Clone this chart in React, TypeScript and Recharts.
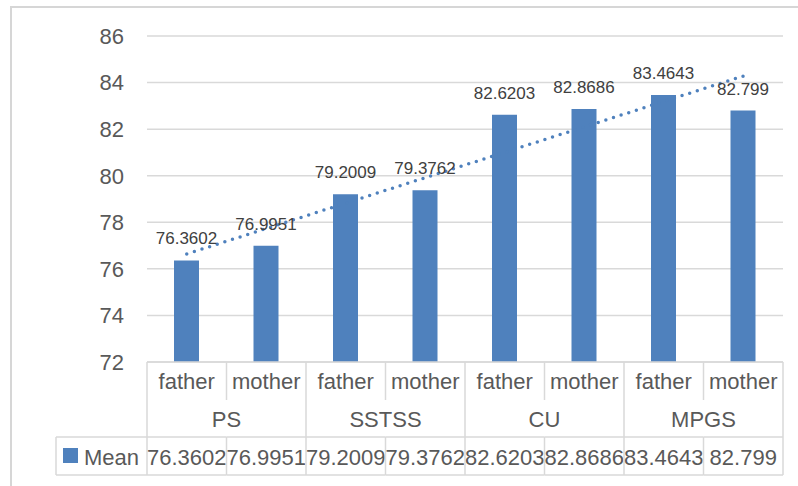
import React from "react";
import {
  ComposedChart,
  Bar,
  Line,
  XAxis,
  YAxis,
  CartesianGrid,
  LabelList,
} from "recharts";

// ---- data ----
const groupNames = ["PS", "SSTSS", "CU", "MPGS"];
const roles = ["father", "mother"];
const meanValues = [76.3602, 76.9951, 79.2009, 79.3762, 82.6203, 82.8686, 83.4643, 82.799];
const trendValues = [76.64, null, null, null, null, null, null, 84.28];
const yTicks = [72, 74, 76, 78, 80, 82, 84, 86];
const seriesName = "Mean";

const data = meanValues.map((v, i) => ({
  key: `${groupNames[Math.floor(i / roles.length)]}|${roles[i % roles.length]}`,
  group: groupNames[Math.floor(i / roles.length)],
  role: roles[i % roles.length],
  mean: v,
  trend: trendValues[i],
}));

// ---- layout ----
const W = 798;
const H = 486;
const MARGIN = { top: 36, right: 15, bottom: 0, left: 0 };
const Y_AXIS_W = 147;
const X_AXIS_H = 124;
const BAND = (W - MARGIN.left - MARGIN.right - Y_AXIS_W) / data.length;
const BAR_COLOR = "#4f81bd";
const GRID = "#d9d9d9";
const TXT = "#595959";
const FONT = "'Liberation Sans', Arial, sans-serif";

const CategoryTick = (props: any) => {
  const { x, y, payload } = props;
  const i = payload.index as number;
  const d = data[i];
  if (!d) return null;
  const left = x - BAND / 2;
  const right = x + BAND / 2;
  const isFirstInGroup = i % roles.length === 0;
  const isLast = i === data.length - 1;
  const rowTop = y + 75;
  const rowBot = y + 113;
  return (
    <g>
      <text x={x} y={y + 19} textAnchor="middle" dominantBaseline="central" fontSize={22} fill={TXT} fontFamily={FONT}>
        {d.role}
      </text>
      {isFirstInGroup ? (
        <>
          <line x1={left} y1={y} x2={left} y2={rowBot} stroke={GRID} strokeWidth={1.5} />
          <text x={right} y={y + 57} textAnchor="middle" dominantBaseline="central" fontSize={22} fill={TXT} fontFamily={FONT}>
            {d.group}
          </text>
        </>
      ) : (
        <>
          <line x1={left} y1={y} x2={left} y2={y + 38} stroke={GRID} strokeWidth={1.5} />
          <line x1={left} y1={rowTop} x2={left} y2={rowBot} stroke={GRID} strokeWidth={1.5} />
        </>
      )}
      {isLast && <line x1={right} y1={y} x2={right} y2={rowBot} stroke={GRID} strokeWidth={1.5} />}
      <line x1={left} y1={rowTop} x2={right} y2={rowTop} stroke={GRID} strokeWidth={1.5} />
      <line x1={left} y1={rowBot} x2={right} y2={rowBot} stroke={GRID} strokeWidth={1.5} />
      <text x={x} y={y + 95} textAnchor="middle" dominantBaseline="central" fontSize={22} fill={TXT} fontFamily={FONT}>
        {String(d.mean)}
      </text>
      {i === 0 && (
        <>
          <line x1={56} y1={rowTop} x2={left} y2={rowTop} stroke={GRID} strokeWidth={1.5} />
          <line x1={56} y1={rowBot} x2={left} y2={rowBot} stroke={GRID} strokeWidth={1.5} />
          <line x1={56} y1={rowTop} x2={56} y2={rowBot} stroke={GRID} strokeWidth={1.5} />
          <rect x={63} y={y + 86} width={15} height={15} fill={BAR_COLOR} />
          <text x={84} y={y + 95} textAnchor="start" dominantBaseline="central" fontSize={22} fill={TXT} fontFamily={FONT}>
            {seriesName}
          </text>
        </>
      )}
    </g>
  );
};

export default function App() {
  return (
    <div style={{ position: "fixed", left: 0, top: 0, width: W, height: H, overflow: "hidden", background: "#fff" }}>
      <div style={{ position: "absolute", left: 10, top: 6, width: W, height: 2, background: "#d6d6d6" }} />
      <div style={{ position: "absolute", left: 10, top: 6, width: 2, height: H, background: "#d6d6d6" }} />
      <div style={{ position: "absolute", left: 0, top: 0 }}>
        <ComposedChart width={W} height={H} data={data} margin={MARGIN}>
          <CartesianGrid horizontal vertical={false} stroke={GRID} strokeWidth={1.5} />
          <YAxis
            domain={[72, 86]}
            ticks={yTicks}
            width={Y_AXIS_W}
            axisLine={false}
            tickLine={false}
            tickSize={0}
            tickMargin={23}
            interval={0}
            tick={{ fontSize: 22, fill: TXT, fontFamily: FONT }}
          />
          <XAxis
            dataKey="key"
            height={X_AXIS_H}
            interval={0}
            tickLine={false}
            tickSize={0}
            tickMargin={0}
            axisLine={{ stroke: GRID, strokeWidth: 1.5 }}
            tick={<CategoryTick />}
          />
          <Bar dataKey="mean" fill={BAR_COLOR} barSize={25} isAnimationActive={false}>
            <LabelList
              dataKey="mean"
              position="top"
              offset={16}
              fontSize={17}
              fill="#404040"
              fontFamily={FONT}
            />
          </Bar>
          <Line
            dataKey="trend"
            connectNulls
            dot={false}
            activeDot={false}
            stroke={BAR_COLOR}
            strokeWidth={3.5}
            strokeDasharray="0 8"
            strokeLinecap="round"
            isAnimationActive={false}
          />
        </ComposedChart>
      </div>
    </div>
  );
}
